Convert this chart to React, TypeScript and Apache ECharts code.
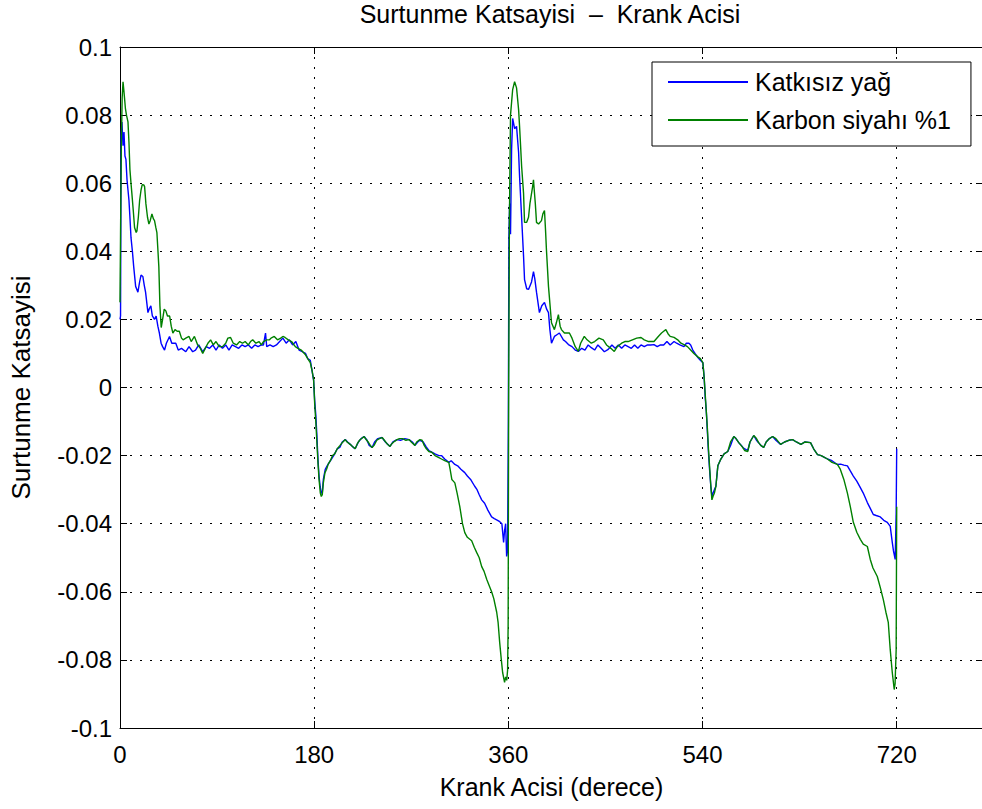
import { useEffect, useRef } from "react";
import * as echarts from "echarts";

const FONT = '"Liberation Sans", Arial, sans-serif';

const titleText = "Surtunme Katsayisi  \u2013  Krank Acisi";
const xName = "Krank Acisi (derece)";
const yName = "Surtunme Katsayisi";
const seriesNames = ["Katkısız yağ", "Karbon siyahı %1"];
const seriesColors = ["#0000ff", "#008000"];

const blueAngles = [
  0, 0.5, 1, 1.8, 2.8, 3.7, 4.6, 5.5, 6.5, 8.3, 9.2, 10.2, 11.5, 12.7, 14.5, 16.6, 18.2, 19.5, 21.2, 22.5,
  23.7, 25.9, 27, 28.6, 30, 32, 33.5, 35.1, 36.5, 38.1, 39.5, 41.3, 43, 45.9, 48, 51.7, 54, 57, 61, 64,
  67.4, 70, 73, 76.7, 80, 83, 86, 89, 92, 95, 98, 101, 104, 107, 110, 113, 116, 119, 122, 125,
  128, 131, 133, 134.9, 136, 139, 142, 145, 148, 151, 154, 157, 160, 163, 166, 169, 172, 174, 176.4, 178,
  179.5, 180.5, 181.5, 182.5, 183.5, 184.5, 185.5, 186.6, 187.5, 188.5, 190.3, 192, 194, 196, 198.6, 201.4, 204, 206, 208.8, 211,
  213.4, 216, 218, 221, 223.5, 226.3, 229, 231, 233.7, 236, 239, 243, 246, 250.3, 253, 256.8, 260, 264, 267.9, 271,
  273.4, 276, 278, 281, 284, 286.3, 289, 292, 295.6, 298, 301, 304.8, 307, 310.4, 313, 316, 319.6, 322, 325, 328.8,
  331, 333, 335.3, 338, 341, 344.5, 347, 350, 352, 354, 355.6, 356.5, 357.5, 358.4, 359.3, 360, 360.5, 361.2, 362, 363,
  364, 365.8, 367.6, 369.5, 370.4, 372.3, 374.1, 375, 377, 378.7, 381.5, 383.3, 384.5, 386.1, 388.8, 391, 393.5, 395.5, 397.2, 398.5,
  400, 402.7, 405, 407.3, 411, 413, 415.7, 419, 422, 424.9, 428, 431, 434, 436.9, 440, 443, 446, 449, 452.6, 456,
  459, 462, 465, 468, 471, 474, 477, 480, 483, 486, 489, 492, 495, 498, 501, 504, 507, 510, 513.6, 516,
  519, 522.8, 525, 527.4, 529, 531, 533, 535.7, 538, 540.3, 541.5, 542.5, 543.5, 544.5, 545.5, 546.5, 547.7, 548.7, 549.7, 551,
  552.4, 554.2, 557, 560, 563.4, 566, 569, 571, 573.6, 576, 578, 581.9, 584, 587.5, 590, 592, 594, 596.7, 599, 602,
  605, 608, 612.4, 616, 620, 623.5, 627, 631.2, 635, 640.1, 643, 646.6, 650, 653, 655.8, 660, 665, 668, 671, 674.3,
  677, 679.8, 683, 686.3, 689, 692.8, 695.5, 698.3, 701, 704.8, 708, 711.3, 714, 715.9, 717, 718.6, 719.5, 720,
];
const blueValues = [
  0.02, 0.021, 0.074, 0.078, 0.071, 0.075, 0.068, 0.067, 0.061, 0.055, 0.05, 0.044, 0.04, 0.0355, 0.0297, 0.028, 0.031, 0.033, 0.0326, 0.03,
  0.028, 0.022, 0.023, 0.024, 0.021, 0.02, 0.021, 0.018, 0.016, 0.013, 0.012, 0.011, 0.013, 0.015, 0.013, 0.013, 0.011, 0.0115, 0.0105, 0.012,
  0.0105, 0.011, 0.0125, 0.0105, 0.012, 0.0115, 0.0125, 0.011, 0.0125, 0.0115, 0.0125, 0.011, 0.0125, 0.012, 0.0115, 0.0125, 0.012, 0.0125, 0.0115, 0.0125,
  0.012, 0.0125, 0.0125, 0.016, 0.012, 0.0125, 0.012, 0.0125, 0.0135, 0.0145, 0.013, 0.014, 0.0125, 0.0135, 0.011, 0.0105, 0.01, 0.0085, 0.008, 0.005,
  0.002, -0.004, -0.008, -0.014, -0.021, -0.026, -0.029, -0.031, -0.031, -0.027, -0.024, -0.023, -0.022, -0.021, -0.0197, -0.018, -0.0175, -0.016, -0.0153, -0.016,
  -0.0167, -0.0175, -0.018, -0.016, -0.015, -0.0144, -0.0155, -0.017, -0.0176, -0.016, -0.015, -0.0147, -0.016, -0.0173, -0.016, -0.0153, -0.0155, -0.015, -0.0153, -0.016,
  -0.017, -0.016, -0.0155, -0.016, -0.0175, -0.0185, -0.019, -0.0195, -0.02, -0.02, -0.021, -0.022, -0.0215, -0.0226, -0.023, -0.024, -0.025, -0.026, -0.027, -0.029,
  -0.03, -0.0315, -0.033, -0.034, -0.036, -0.038, -0.0385, -0.039, -0.0394, -0.04, -0.0455, -0.042, -0.04, -0.0496, -0.048, -0.01, 0.044, 0.054, 0.045, 0.07,
  0.079, 0.076, 0.0767, 0.069, 0.062, 0.05, 0.0385, 0.0317, 0.029, 0.0288, 0.031, 0.034, 0.032, 0.028, 0.022, 0.024, 0.025, 0.023, 0.022, 0.017,
  0.013, 0.015, 0.0155, 0.016, 0.014, 0.0135, 0.0126, 0.012, 0.011, 0.0106, 0.0115, 0.011, 0.0125, 0.0117, 0.011, 0.0125, 0.0115, 0.0105, 0.0112, 0.0125,
  0.0115, 0.0125, 0.0115, 0.0125, 0.012, 0.0115, 0.0125, 0.0115, 0.0125, 0.012, 0.0125, 0.0125, 0.0126, 0.012, 0.0125, 0.0125, 0.0135, 0.0125, 0.0135, 0.013,
  0.0125, 0.012, 0.013, 0.013, 0.0125, 0.011, 0.01, 0.0088, 0.008, 0.0073, 0.003, -0.003, -0.007, -0.013, -0.019, -0.024, -0.029, -0.032, -0.031, -0.03,
  -0.029, -0.023, -0.021, -0.0195, -0.0188, -0.017, -0.0144, -0.015, -0.0162, -0.017, -0.0178, -0.0185, -0.016, -0.0141, -0.0155, -0.0162, -0.017, -0.0176, -0.016, -0.015,
  -0.0144, -0.0155, -0.0167, -0.016, -0.0155, -0.0153, -0.016, -0.0167, -0.016, -0.0162, -0.018, -0.0197, -0.02, -0.0205, -0.021, -0.0215, -0.0226, -0.0225, -0.0228, -0.023,
  -0.0245, -0.026, -0.0275, -0.0294, -0.031, -0.0338, -0.0355, -0.0373, -0.0376, -0.038, -0.039, -0.0396, -0.0408, -0.0455, -0.048, -0.0505, -0.037, -0.018,
];

const greenAngles = [
  0, 0.5, 1.2, 2, 2.8, 3.5, 4.2, 5, 6, 7.4, 8.3, 9.2, 10.2, 11, 12.3, 13.5, 15, 15.7, 17, 18.2,
  19.5, 20.6, 22, 22.8, 24, 25.5, 26.8, 28, 29.6, 31, 32, 33.2, 34.2, 35.2, 36, 37, 38.2, 39.5, 41, 42.5,
  44, 46, 47.5, 49, 51, 53, 55, 57, 58.5, 61, 64, 66, 69, 72, 74.5, 76.7, 79, 81.5, 84, 86.5,
  89, 92, 95, 98, 100, 102.5, 105, 108, 111, 113.6, 116, 119, 121, 123, 126, 129, 131, 133, 136, 138.6,
  140, 143, 146, 149, 151, 153, 156, 159, 162.5, 165, 168, 171.7, 174, 176.4, 178, 179.5, 180.5, 181.5, 182.5, 183.5,
  184.5, 185.7, 186.6, 187.5, 188.5, 190, 191.5, 193, 195, 197, 199, 201.4, 204, 206, 208.8, 210.5, 213.4, 215, 218, 220,
  222, 224, 226.3, 228, 230, 232, 233.7, 235.5, 238, 240.5, 243, 245, 247.5, 250.3, 252, 254.5, 256.8, 259, 262, 265,
  267.9, 270, 273.4, 275, 278, 280, 282, 284, 286.3, 289, 292, 295.6, 298, 301, 304.8, 306, 307.6, 309, 310.4, 312.5,
  315, 317.5, 319.6, 322, 324, 326, 328.5, 330.7, 333, 335.3, 337.5, 340, 342, 344.5, 346.5, 349.2, 350.5, 352, 353.5, 354.7,
  356.5, 357.5, 358.5, 359.3, 359.8, 360.3, 361, 362, 364, 365.8, 367.6, 369.5, 370.4, 371.5, 372.3, 374.1, 375, 377, 378.7, 380,
  381.5, 382.5, 383.3, 384, 385, 386.1, 388, 390.7, 392, 393.5, 394.5, 395.3, 397.2, 400, 402.7, 404.5, 406.4, 408, 409.2, 412,
  416.6, 419, 422, 424.9, 427, 430.4, 433, 436.9, 440, 444, 448, 451, 455, 458.2, 461, 465, 468, 471, 475, 479,
  483, 486, 490, 495, 499, 502, 504, 506, 508, 510, 513.6, 517, 520, 522.8, 526, 529, 532, 535.7, 538, 540.3,
  541.5, 542.5, 543.5, 544.5, 545.5, 546.5, 547.7, 548.7, 549.7, 551, 552.4, 554.2, 557, 560, 563.4, 566, 569, 571, 573.6, 577,
  579, 581.9, 584, 587.5, 590, 592, 594, 596.7, 599, 602, 605, 608, 612.4, 616, 620, 623.5, 627, 631.2, 635, 640.1,
  643, 646.6, 650, 653, 655.8, 660, 665, 667.7, 671, 674.3, 677, 679.8, 683, 686.3, 689, 692.8, 695.5, 698, 702, 705,
  707.6, 710, 712.2, 714, 715.9, 717.7, 718.5, 719.5, 720,
];
const greenValues = [
  0.025, 0.045, 0.07, 0.085, 0.0898, 0.0875, 0.085, 0.082, 0.08, 0.078, 0.072, 0.064, 0.06, 0.057, 0.052, 0.047, 0.0455, 0.046, 0.05, 0.055,
  0.058, 0.0596, 0.0595, 0.059, 0.054, 0.05, 0.048, 0.049, 0.051, 0.0495, 0.049, 0.047, 0.0455, 0.04, 0.0355, 0.024, 0.0176, 0.02, 0.023, 0.0225,
  0.021, 0.021, 0.018, 0.016, 0.017, 0.0165, 0.0165, 0.0145, 0.014, 0.0145, 0.015, 0.0135, 0.015, 0.0125, 0.0115, 0.01, 0.0115, 0.013, 0.014, 0.0125,
  0.0135, 0.012, 0.012, 0.013, 0.0145, 0.0147, 0.013, 0.0125, 0.0135, 0.013, 0.0135, 0.0125, 0.0135, 0.014, 0.013, 0.0135, 0.0125, 0.0135, 0.014, 0.014,
  0.0145, 0.015, 0.014, 0.0145, 0.015, 0.0147, 0.014, 0.0135, 0.012, 0.0115, 0.011, 0.0097, 0.0085, 0.0073, 0.005, 0.0023, -0.005, -0.01, -0.016, -0.022,
  -0.027, -0.031, -0.032, -0.0315, -0.028, -0.025, -0.024, -0.0225, -0.0215, -0.02, -0.0195, -0.018, -0.017, -0.0162, -0.0153, -0.016, -0.0167, -0.0172, -0.018, -0.0165,
  -0.0155, -0.015, -0.0144, -0.0152, -0.016, -0.017, -0.0176, -0.017, -0.0155, -0.015, -0.0147, -0.0155, -0.0165, -0.0173, -0.0165, -0.0158, -0.0153, -0.015, -0.015, -0.0155,
  -0.0153, -0.016, -0.017, -0.016, -0.0153, -0.0155, -0.017, -0.018, -0.0188, -0.019, -0.02, -0.0206, -0.021, -0.0215, -0.022, -0.024, -0.027, -0.0275, -0.028, -0.031,
  -0.035, -0.04, -0.0426, -0.044, -0.0445, -0.045, -0.047, -0.0485, -0.05, -0.0526, -0.054, -0.0564, -0.058, -0.06, -0.062, -0.066, -0.069, -0.075, -0.08, -0.0837,
  -0.0866, -0.085, -0.086, -0.083, -0.07, 0.0, 0.05, 0.08, 0.0875, 0.0898, 0.088, 0.0816, 0.0767, 0.07, 0.065, 0.057, 0.0485, 0.0485, 0.05, 0.054,
  0.057, 0.059, 0.061, 0.058, 0.054, 0.0485, 0.048, 0.049, 0.051, 0.052, 0.046, 0.0405, 0.0297, 0.019, 0.017, 0.019, 0.0214, 0.018, 0.017, 0.016,
  0.016, 0.0145, 0.012, 0.0106, 0.013, 0.015, 0.014, 0.013, 0.0135, 0.0145, 0.014, 0.0125, 0.0115, 0.0106, 0.012, 0.013, 0.0135, 0.0135, 0.014, 0.0145,
  0.0147, 0.014, 0.0135, 0.0135, 0.015, 0.016, 0.0165, 0.017, 0.0158, 0.015, 0.0147, 0.014, 0.013, 0.0126, 0.012, 0.011, 0.01, 0.009, 0.0085, 0.0073,
  0.003, -0.002, -0.007, -0.012, -0.018, -0.023, -0.029, -0.033, -0.032, -0.031, -0.029, -0.023, -0.021, -0.0195, -0.0188, -0.016, -0.0144, -0.015, -0.0162, -0.0175,
  -0.0185, -0.0188, -0.016, -0.0141, -0.015, -0.0162, -0.017, -0.0176, -0.016, -0.015, -0.0144, -0.015, -0.0167, -0.016, -0.0155, -0.0153, -0.016, -0.0167, -0.016, -0.0162,
  -0.018, -0.0197, -0.02, -0.0205, -0.021, -0.022, -0.0226, -0.024, -0.027, -0.031, -0.035, -0.0396, -0.0425, -0.0446, -0.046, -0.0467, -0.0505, -0.053, -0.0555, -0.059,
  -0.0623, -0.066, -0.069, -0.077, -0.0837, -0.0887, -0.087, -0.077, -0.035,
];

const xTickInterval = 180;
const xMax = 800;
const yMin = -0.1;
const yMax = 0.1;
const yTickInterval = 0.02;

function pairs(xs: number[], ys: number[]) {
  const n = Math.min(xs.length, ys.length);
  const out: number[][] = [];
  for (let i = 0; i < n; i++) out.push([xs[i], ys[i]]);
  return out;
}

export default function App() {
  const ref = useRef<HTMLDivElement>(null);
  useEffect(() => {
    if (!ref.current) return;
    const chart = echarts.init(ref.current, null, { renderer: "svg" });
    const black = "#000";
    const dotted = { color: black, type: [2, 8] as any, width: 1 };
    const tickStyle = { inside: true, length: 7, lineStyle: { color: black, width: 1 } };
    const lineAxis = { show: true, onZero: false, lineStyle: { color: black, width: 1 } };
    chart.setOption({
      animation: false,
      backgroundColor: "#fff",
      textStyle: { fontFamily: FONT },
      grid: { left: 117, top: 47, width: 866, height: 681, containLabel: false },
      graphic: [
        {
          type: "text",
          x: 550,
          y: 14,
          style: {
            text: titleText,
            fill: black,
            fontSize: 25,
            fontFamily: FONT,
            align: "center",
            verticalAlign: "middle",
            textAlign: "center",
            textVerticalAlign: "middle",
          },
        },
      ],
      legend: {
        left: 652,
        top: 62,
        orient: "vertical",
        icon: "rect",
        itemWidth: 80,
        itemHeight: 2,
        itemGap: 8,
        padding: [5, 20, 11, 16],
        borderColor: black,
        borderWidth: 1,
        backgroundColor: "#fff",
        selectedMode: false,
        textStyle: { fontSize: 25, color: black, fontFamily: FONT, lineHeight: 30, padding: [0, 0, 0, 2] },
        data: seriesNames,
      },
      xAxis: [
        {
          type: "value",
          position: "bottom",
          min: 0,
          max: xMax,
          interval: xTickInterval,
          axisLine: lineAxis,
          axisTick: tickStyle,
          axisLabel: { color: black, fontSize: 24, margin: 14, showMaxLabel: false, fontFamily: FONT },
          splitLine: { show: true, lineStyle: dotted },
          name: xName,
          nameLocation: "middle",
          nameGap: 46,
          nameTextStyle: { color: black, fontSize: 25, fontFamily: FONT },
        },
        {
          type: "value",
          position: "top",
          min: 0,
          max: xMax,
          interval: xTickInterval,
          axisLine: lineAxis,
          axisTick: tickStyle,
          axisLabel: { show: false },
          splitLine: { show: false },
        },
      ],
      yAxis: [
        {
          type: "value",
          position: "left",
          min: yMin,
          max: yMax,
          interval: yTickInterval,
          axisLine: lineAxis,
          axisTick: tickStyle,
          axisLabel: {
            color: black,
            fontSize: 24,
            margin: 8,
            fontFamily: FONT,
            formatter: (v: number) => String(Number(v.toFixed(2))),
          },
          splitLine: { show: true, lineStyle: dotted },
          name: yName,
          nameLocation: "middle",
          nameRotate: 90,
          nameGap: 86,
          nameTextStyle: { color: black, fontSize: 26, fontFamily: FONT },
        },
        {
          type: "value",
          position: "right",
          min: yMin,
          max: yMax,
          interval: yTickInterval,
          axisLine: lineAxis,
          axisTick: tickStyle,
          axisLabel: { show: false },
          splitLine: { show: false },
        },
      ],
      series: [
        {
          name: seriesNames[0],
          type: "line",
          data: pairs(blueAngles, blueValues),
          showSymbol: false,
          symbol: "none",
          lineStyle: { color: seriesColors[0], width: 1.4 },
          itemStyle: { color: seriesColors[0] },
          emphasis: { disabled: true },
        },
        {
          name: seriesNames[1],
          type: "line",
          data: pairs(greenAngles, greenValues),
          showSymbol: false,
          symbol: "none",
          lineStyle: { color: seriesColors[1], width: 1.4 },
          itemStyle: { color: seriesColors[1] },
          emphasis: { disabled: true },
        },
      ],
    });
    return () => chart.dispose();
  }, []);
  return (
    <div
      style={{
        position: "fixed",
        left: 0,
        top: 0,
        width: 982,
        height: 809,
        overflow: "hidden",
        background: "#fff",
      }}
    >
      <div ref={ref} style={{ width: 1000, height: 809 }} />
    </div>
  );
}
